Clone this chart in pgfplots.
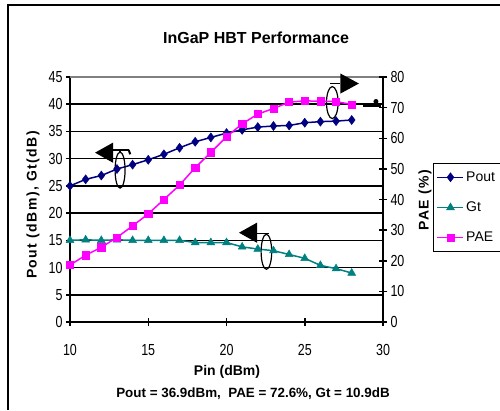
\documentclass[border=0pt]{standalone}
\usepackage{fontspec}
\setmainfont{Liberation Sans}
\newfontfamily\narrowfont[FakeStretch=0.78]{Liberation Sans}
\usepackage{pgfplots}
\usepackage{pgfplotstable}
\pgfplotsset{compat=1.18}
\definecolor{poutc}{RGB}{0,0,128}
\definecolor{gtc}{RGB}{0,128,128}
\definecolor{paec}{RGB}{255,0,255}

\pgfplotstableread{
pin pout gt pae
10 25.0 15.0 18.6
11 26.2 15.1 21.8
12 26.9 15.0 24.4
13 28.1 15.1 27.6
14 28.9 15.0 31.4
15 29.8 15.0 35.3
16 30.8 15.0 40.0
17 32.0 15.0 44.7
18 33.1 14.6 50.4
19 33.9 14.6 55.4
20 34.7 14.6 60.5
21 35.3 13.8 64.7
22 35.8 13.4 67.9
23 36.0 13.1 69.7
24 36.1 12.4 71.8
25 36.6 11.7 72.2
26 36.8 10.4 72.1
27 36.9 9.8 72.0
28 37.1 9.0 71.0
}\datatable

\pgfplotsset{
  poutstyle/.style={color=poutc, line width=1.5pt, mark=diamond*, mark size=4.5pt, mark options={solid, fill=poutc, line width=0.5pt}},
  gtstyle/.style={color=gtc, line width=1.5pt, mark=triangle*, mark size=4.5pt, mark options={solid, fill=gtc, line width=0.5pt}},
  paestyle/.style={color=paec, line width=1.5pt, mark=square*, mark size=3.6pt, mark options={solid, fill=paec, line width=0.5pt}},
  commonaxis/.style={
    at={(70pt,88pt)}, anchor=south west, scale only axis,
    width=313pt, height=245pt,
    xmin=10, xmax=30,
    axis line style={line width=1.5pt, -},
    tick style={black, line width=1.5pt},
    major tick length=8pt, tick align=center,
    ticklabel style={font=\narrowfont\fontsize{16}{16}\selectfont},
    xticklabel style={yshift=-15pt},
    /pgf/number format/assume math mode=true,
  },
}

\begin{document}
\begin{tikzpicture}
\useasboundingbox (0pt,0pt) rectangle (500pt,410pt);
\clip (0pt,0pt) rectangle (500pt,410pt);
\draw[line width=2pt] (8pt,0pt) -- (8pt,405pt) -- (500pt,405pt);

\node[font=\bfseries\fontsize{16}{18}\selectfont] at (256pt,372pt) {InGaP HBT Performance};

\begin{axis}[commonaxis,
  ymin=0, ymax=45,
  xtick={10,15,...,30}, ytick={0,5,...,45},
  axis x line*=bottom, axis y line*=left,
  ymajorgrids, major grid style={black, line width=1.6pt},
  clip=false,
]
\draw[gray, line width=1.6pt] (axis cs:10,45) -- (axis cs:30,45);
\addplot[poutstyle] table[x=pin,y=pout]{\datatable};
\addplot[gtstyle] table[x=pin,y=gt]{\datatable};
% annotations
\fill (axis cs:11.6,31.1) -- (axis cs:12.75,32.95) -- (axis cs:12.75,29.25) -- cycle;
\draw[line width=2.5pt] (axis cs:12.7,31.6) -- (axis cs:13.8,31.6);
\draw[line width=2pt] (axis cs:13.75,31.6) -- (axis cs:13.85,30.8);
\draw[line width=1.3pt] (axis cs:13.2,31.6) -- (axis cs:13.2,31.2);
\draw[line width=1.2pt] (axis cs:13.2,27.9) ellipse [x radius=5pt, y radius=18pt];

\fill (axis cs:20.8,16.4) -- (axis cs:21.95,18.25) -- (axis cs:21.95,14.55) -- cycle;
\draw[line width=1.2pt] (axis cs:21.95,16.3) -- (axis cs:22.65,16.3) -- (axis cs:22.65,16.1);
\draw[line width=1.2pt] (axis cs:22.55,12.9) ellipse [x radius=5.3pt, y radius=17.5pt];

\fill (axis cs:28.46,43.8) -- (axis cs:27.28,45.64) -- (axis cs:27.28,41.96) -- cycle;
\draw[line width=1.2pt] (axis cs:26.6,43.8) -- (axis cs:27.28,43.8);
\draw[line width=1.2pt] (axis cs:26.76,40.3) ellipse [x radius=5.8pt, y radius=16pt];
\fill (axis cs:28.75,40.3) rectangle (axis cs:29.9,39.5);
\fill (axis cs:29.55,40.5) circle[radius=2.5pt];
\end{axis}

\begin{axis}[commonaxis,
  ymin=0, ymax=80, ytick={0,10,...,80},
  axis y line*=right, axis x line=none,
  legend style={at={(1.1597,0.649)}, anchor=north west, draw=black, line width=1.5pt,
    font=\fontsize{14}{14}\selectfont, row sep=15pt, inner xsep=3pt, inner ysep=6pt},
  legend cell align=left,
  legend image code/.code={\draw[mark repeat=2, mark phase=2, #1] plot coordinates {(0pt,0pt) (13pt,0pt) (26pt,0pt)};},
]
\addlegendimage{poutstyle}\addlegendentry{\makebox[38pt][l]{Pout}}
\addlegendimage{gtstyle}\addlegendentry{\makebox[38pt][l]{Gt}}
\addplot[paestyle] table[x=pin,y=pae]{\datatable};
\addlegendentry{\makebox[38pt][l]{PAE}}
\end{axis}

\node[font=\bfseries\fontsize{14}{14}\selectfont] at (227pt,38pt) {Pin (dBm)};
\node[font=\bfseries\fontsize{13.4}{14}\selectfont] at (253pt,16pt) {Pout = 36.9dBm,\ \ PAE = 72.6\%, Gt = 10.9dB};
\node[rotate=90, font=\bfseries\fontsize{14}{14}\selectfont\addfontfeatures{LetterSpace=10}] at (33pt,205pt) {Pout (dBm), Gt(dB)};
\node[rotate=90, font=\bfseries\fontsize{14}{14}\selectfont\addfontfeatures{LetterSpace=10}] at (425pt,210pt) {PAE (\%)};
\end{tikzpicture}
\end{document}
